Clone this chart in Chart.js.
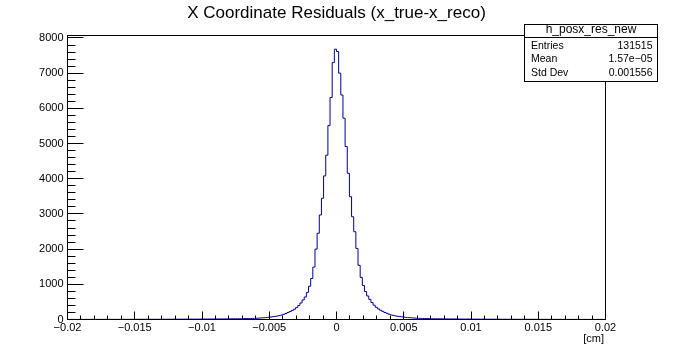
<!DOCTYPE html>
<html>
<head>
<meta charset="utf-8">
<script src="https://cdn.jsdelivr.net/npm/chart.js@4.4.0/dist/chart.umd.min.js"></script>
<style>
  body { margin: 0; background: #fff; }
  canvas { display: block; }
</style>
</head>
<body>
<canvas id="hist" width="673" height="355"></canvas>
<script>
// --- histogram definition ---
const X_MIN = -0.02;
const X_MAX = 0.02;
const Y_MAX = 8070; // ROOT leaves ~5% headroom over the peak

// far left tail, from x = -0.02 towards the centre (85 bins)
const leftTail = [2,3,2,2,3, 2,3,3,2,3, 3,4,3,3,3, 4,3,4,4,3, 4,4,4,3,4,
                  4,4,5,4,5, 5,5,6,5,5, 6,6,5,6,6, 7,6,6,7,7,
                  7,7,8,7,8, 8,9,8,9,9, 10,9,10,10,11, 11,11,12,12,13,
                  13,14,14,15,15, 16,16,17,18,18, 19,20,21,21,22, 23,24,25,26,27];
// left half of the peak, ending at the bin just below 0 (40 bins)
const leftCore = [29,31,34,38,42,46,51,57,64,71,79,88,99,112,126,146,170,200,226,258,
                  292,338,398,470,555,640,770,945,1165,1490,2000,
                  2450,2970,3445,4080,4670,5510,6310,7300,7680];
// right half of the peak, starting at the bin just above 0 (40 bins)
const rightCore = [7615,7000,6380,5720,4915,4155,3490,2920,2495,
                   2020,1540,1195,965,795,668,572,482,407,347,301,263,231,199,176,
                   150,130,115,102,92,82,74,66,59,53,48,44,40,36,33,30];
// far right tail, up to x = 0.02 (85 bins)
const rightTail = [28,26,25,24,22, 21,21,20,19,18, 18,17,16,16,15, 14,14,13,13,12,
                   12,12,11,11,10, 10,10,9,9,9, 8,9,8,8,7, 8,7,7,7,6,
                   6,7,6,6,5, 6,5,5,6,5, 5,4,5,5,4, 5,4,4,4,3,
                   4,4,3,3,4, 3,3,3,2,3, 3,2,3,2,2, 3,2,2,3,2, 2,2,3,2,2];

const counts = [...leftTail, ...leftCore, ...rightCore, ...rightTail];

// axis tick labels
const xTicks = [-0.02, -0.015, -0.01, -0.005, 0, 0.005, 0.01, 0.015, 0.02];
const yTicks = [0, 1000, 2000, 3000, 4000, 5000, 6000, 7000, 8000];
const xMinorStep = 0.001;
const yMinorStep = 200;

// stats box
const statsName = 'h_posx_res_new';
const statsLabels = ['Entries', 'Mean', 'Std Dev'];
const statsValues = ['131515', '1.57e\u221205', '0.001556'];

const titleText = 'X Coordinate Residuals (x_true-x_reco)';
const xUnit = '[cm]';

const FONT = "'Liberation Sans', Arial, Helvetica, sans-serif";
Chart.defaults.font.family = FONT;
Chart.defaults.color = '#000';

// bin edges -> step points (horizontal run per bin)
const binWidth = (X_MAX - X_MIN) / counts.length;
const points = counts.map((c, i) => ({ x: X_MIN + i * binWidth, y: c }));
points.push({ x: X_MAX, y: counts[counts.length - 1] });

function fmtX(v) {
    if (Math.abs(v) < 1e-12) return '0';
    return (v < 0 ? '\u2212' : '') + String(Math.abs(v));
}

// ROOT-style frame, inward ticks, title and stats box
const rootDecor = {
    id: 'rootDecor',
    afterDraw(chart) {
        const { ctx, chartArea: a, scales: { x, y } } = chart;
        ctx.save();
        ctx.strokeStyle = '#000';
        ctx.lineWidth = 1;

        // frame
        ctx.strokeRect(a.left, a.top, a.right - a.left, a.bottom - a.top);

        // y ticks (inside the frame)
        ctx.beginPath();
        const yTop = yTicks[yTicks.length - 1];
        for (let v = 0; v <= yTop + 1e-9; v += yMinorStep) {
            const py = Math.floor(y.getPixelForValue(v)) + 0.5;
            const len = yTicks.includes(v) ? 16 : 8;
            ctx.moveTo(a.left, py);
            ctx.lineTo(a.left + len, py);
        }
        // x ticks
        const n = Math.round((X_MAX - X_MIN) / xMinorStep);
        const perMajor = Math.round((xTicks[1] - xTicks[0]) / xMinorStep);
        for (let i = 0; i <= n; i++) {
            const v = X_MIN + i * xMinorStep;
            const px = Math.floor(x.getPixelForValue(v)) + 0.5;
            const len = (i % perMajor === 0) ? 8 : 4;
            ctx.moveTo(px, a.bottom);
            ctx.lineTo(px, a.bottom - len);
        }
        ctx.stroke();

        // title
        ctx.fillStyle = '#000';
        ctx.font = '17px ' + FONT;
        ctx.textAlign = 'center';
        ctx.textBaseline = 'alphabetic';
        ctx.fillText(titleText, 336.5, 18);

        // axis unit
        ctx.font = '11px ' + FONT;
        ctx.textAlign = 'right';
        ctx.fillText(xUnit, 604, 342);

        // stats box
        const bx = 524.5, by = 24.5, bw = 133, bh = 57;
        ctx.fillStyle = '#fff';
        ctx.fillRect(bx, by, bw, bh);
        ctx.strokeRect(bx, by, bw, bh);
        ctx.beginPath();
        ctx.moveTo(bx, 37.5);
        ctx.lineTo(bx + bw, 37.5);
        ctx.stroke();
        ctx.fillStyle = '#000';
        ctx.font = '12px ' + FONT;
        ctx.textAlign = 'center';
        ctx.fillText(statsName, bx + bw / 2, 33);
        ctx.font = '10.5px ' + FONT;
        statsLabels.forEach((lab, i) => {
            const ty = 48.5 + i * 13.5;
            ctx.textAlign = 'left';
            ctx.fillText(lab, 531, ty);
            ctx.textAlign = 'right';
            ctx.fillText(statsValues[i], 652.5, ty);
        });
        ctx.restore();
    }
};

new Chart(document.getElementById('hist'), {
    type: 'line',
    data: {
        datasets: [{
            data: points,
            borderColor: '#000099',
            borderWidth: 1,
            pointRadius: 0,
            fill: false,
            tension: 0,
            stepped: 'before'
        }]
    },
    options: {
        responsive: false,
        animation: false,
        devicePixelRatio: 1,
        layout: { padding: { top: 35.5, right: 67.5, bottom: 0, left: 0 } },
        plugins: {
            legend: { display: false },
            title: { display: false },
            tooltip: { enabled: false }
        },
        scales: {
            x: {
                type: 'linear',
                min: X_MIN,
                max: X_MAX,
                border: { display: false },
                grid: { display: false, drawTicks: false },
                afterBuildTicks: s => { s.ticks = xTicks.map(v => ({ value: v })); },
                ticks: {
                    autoSkip: false,
                    maxRotation: 0,
                    padding: 2,
                    font: { size: 11 },
                    callback: v => fmtX(v)
                },
                afterFit: s => { s.height = 35.5; }
            },
            y: {
                type: 'linear',
                min: 0,
                max: Y_MAX,
                border: { display: false },
                grid: { display: false, drawTicks: false },
                afterBuildTicks: s => { s.ticks = yTicks.map(v => ({ value: v })); },
                ticks: {
                    autoSkip: false,
                    padding: 4,
                    font: { size: 11 },
                    callback: v => String(v)
                },
                afterFit: s => { s.width = 67.5; }
            }
        }
    },
    plugins: [rootDecor]
});
</script>
</body>
</html>
